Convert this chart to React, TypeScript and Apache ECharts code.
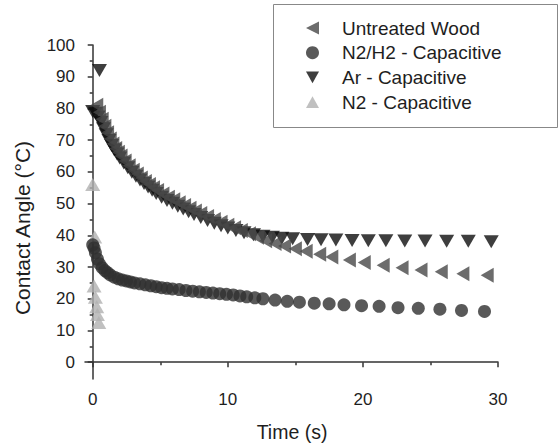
import React, { useEffect, useRef } from "react";
import * as echarts from "echarts";

// Untreated Wood
const uwT = [0.3,0.5,0.7,0.9,1.1,1.3,1.5,1.7,1.9,2.1,2.4,2.7,3.0,3.3,3.6,3.9,4.2,4.5,4.8,5.2,5.6,6.0,6.4,6.8,7.2,7.6,8.0,8.5,9.0,9.5,10.0,10.5,11.0,11.6,12.2,12.8,13.5,14.2,15.0,15.8,16.8,17.7,19.0,20.1,21.5,22.9,24.3,25.8,27.4,29.2];
const uwV = [81,78.8,76.6,74.4,72.3,70.4,68.8,67.4,66.2,65.0,63.4,61.9,60.5,59.3,58.1,57.0,56.0,55.0,54.1,53.0,52.0,51.2,50.3,49.4,48.5,47.7,46.9,45.9,45.0,44.1,43.2,42.4,41.5,40.5,39.4,38.3,37.4,36.6,35.8,35.0,34.0,33.2,32.2,31.4,30.6,29.8,29.1,28.5,27.9,27.4];

// N2/H2 - Capacitive
const nhT = [0.0,0.1,0.2,0.35,0.5,0.7,0.9,1.1,1.3,1.6,1.9,2.2,2.5,2.8,3.1,3.5,3.9,4.3,4.7,5.1,5.5,5.9,6.4,6.9,7.4,7.9,8.4,8.9,9.4,9.9,10.4,10.9,11.4,12.0,12.6,13.5,14.4,15.3,16.4,17.5,18.6,19.9,21.2,22.6,24.1,25.7,27.3,29.0];
const nhV = [37,36,34.5,32.5,31,29.8,28.9,28.2,27.5,26.8,26.3,25.9,25.6,25.3,25.0,24.7,24.4,24.1,23.8,23.5,23.3,23.1,22.9,22.6,22.4,22.2,22.0,21.8,21.6,21.4,21.2,20.9,20.6,20.3,20.0,19.6,19.2,18.9,18.6,18.4,18.1,17.8,17.6,17.2,17.0,16.7,16.3,16.0];

// Ar - Capacitive
const arT = [0.5,0.0,0.2,0.4,0.6,0.8,1.0,1.2,1.4,1.6,1.8,2.0,2.3,2.6,2.9,3.2,3.5,3.8,4.1,4.4,4.7,5.1,5.5,5.9,6.3,6.7,7.1,7.5,8.0,8.5,9.0,9.5,10.0,10.6,11.2,11.9,12.6,13.3,14.0,14.8,15.9,16.9,18.0,19.2,20.4,21.7,23.1,24.6,26.2,27.8,29.5];
const arV = [92,79,78.5,77.3,75.6,73.6,71.7,69.9,68.3,66.9,65.6,64.4,62.8,61.3,59.9,58.6,57.4,56.3,55.2,54.2,53.2,52.0,51.0,50.1,49.2,48.3,47.4,46.6,45.6,44.7,43.8,43.0,42.3,41.5,40.8,40.2,39.7,39.4,39.1,38.9,38.7,38.6,38.5,38.4,38.3,38.3,38.2,38.2,38.1,38.1,38.0];

// N2 - Capacitive
const n2T = [0.0,0.15,0.1,0.2,0.3,0.35,0.45];
const n2V = [56,39.5,24,20.5,17.5,15,12.5];

const xMajor = [0, 10, 20, 30];
const xMinor = [5, 15, 25];
const yMajor = [0, 10, 20, 30, 40, 50, 60, 70, 80, 90, 100];
const yMinor = [5, 15, 25, 35, 45, 55, 65, 75, 85, 95];

const names = ["Untreated Wood", "N2/H2 - Capacitive", "Ar - Capacitive", "N2 - Capacitive"];

const zip = (t: number[], v: number[]) => t.map((x, i) => [x, v[i]]);

const LEFT_TRI = "path://M0,6L12,0L12,12Z";
const DOWN_TRI = "path://M0,0L12,0L6,11Z";
const UP_TRI = "path://M6,0L12,11L0,11Z";

const FONT = "Liberation Sans, Arial, sans-serif";
const AXIS_COLOR = "#333";
const TEXT_COLOR = "#1e1e1e";

export default function App() {
  const ref = useRef<HTMLDivElement>(null);
  useEffect(() => {
    if (!ref.current) return;
    const chart = echarts.init(ref.current, null, { renderer: "svg" });
    const xBase = {
      type: "value",
      min: -0.57,
      max: 30,
      splitLine: { show: false },
      axisLine: { show: true, lineStyle: { color: AXIS_COLOR, width: 1.5 } },
    };
    const yBase = {
      type: "value",
      min: -5.3,
      max: 100,
      splitLine: { show: false },
      axisLine: { show: true, lineStyle: { color: AXIS_COLOR, width: 1.5 } },
    };
    chart.setOption({
      animation: false,
      grid: { left: 85, right: 62, top: 45, bottom: 68 },
      xAxis: [
        {
          ...xBase,
          axisTick: { show: true, inside: false, length: 5, customValues: xMajor, lineStyle: { color: AXIS_COLOR, width: 1.5 } },
          axisLabel: { show: true, customValues: xMajor, fontSize: 17, fontFamily: FONT, color: TEXT_COLOR, margin: 12 },
        },
        {
          ...xBase,
          position: "bottom",
          axisLine: { show: false },
          axisTick: { show: true, inside: false, length: 3, customValues: xMinor, lineStyle: { color: AXIS_COLOR, width: 1.5 } },
          axisLabel: { show: false },
        },
      ],
      yAxis: [
        {
          ...yBase,
          axisTick: { show: true, inside: false, length: 5, customValues: yMajor, lineStyle: { color: AXIS_COLOR, width: 1.5 } },
          axisLabel: { show: true, customValues: yMajor, fontSize: 17, fontFamily: FONT, color: TEXT_COLOR, margin: 10 },
        },
        {
          ...yBase,
          position: "left",
          axisLine: { show: false },
          axisTick: { show: true, inside: false, length: 3, customValues: yMinor, lineStyle: { color: AXIS_COLOR, width: 1.5 } },
          axisLabel: { show: false },
        },
      ],
      legend: {
        orient: "vertical",
        left: 306,
        top: 18,
        padding: 0,
        itemWidth: 13,
        itemHeight: 13,
        itemGap: 4.7,
        textStyle: { fontSize: 19, fontFamily: FONT, color: TEXT_COLOR, lineHeight: 20, padding: [0, 0, 0, 18] },
        data: [
          { name: names[0], icon: LEFT_TRI },
          { name: names[1], icon: "circle" },
          { name: names[2], icon: DOWN_TRI },
          { name: names[3], icon: UP_TRI },
        ],
      },
      graphic: [
        {
          type: "rect",
          shape: { x: 273.5, y: 4.5, width: 284, height: 123 },
          style: { fill: "none", stroke: "#888", lineWidth: 1 },
          z: 0,
        },
        {
          type: "text",
          x: 22,
          y: 228,
          rotation: Math.PI / 2,
          style: { text: "Contact Angle (°C)", fontSize: 21, fontFamily: FONT, fill: TEXT_COLOR, align: "center", verticalAlign: "middle" },
        },
        {
          type: "text",
          x: 292,
          y: 432,
          style: { text: "Time (s)", fontSize: 19.5, fontFamily: FONT, fill: TEXT_COLOR, align: "center", verticalAlign: "middle" },
        },
      ],
      series: [
        {
          name: names[2],
          type: "scatter",
          data: zip(arT, arV),
          symbol: DOWN_TRI,
          symbolSize: [15, 13],
          itemStyle: { color: "#0e0e0e" },
          z: 2,
        },
        {
          name: names[3],
          type: "scatter",
          data: zip(n2T, n2V),
          symbol: UP_TRI,
          symbolSize: [15, 13],
          itemStyle: { color: "#b0b0b0" },
          z: 2,
        },
        {
          name: names[1],
          type: "scatter",
          data: zip(nhT, nhV),
          symbol: "circle",
          symbolSize: 13,
          itemStyle: { color: "#2f2f2f" },
          z: 3,
        },
        {
          name: names[0],
          type: "scatter",
          data: zip(uwT, uwV),
          symbol: LEFT_TRI,
          symbolSize: [13, 15],
          itemStyle: { color: "#474747" },
          z: 4,
        },
      ],
    });
    return () => chart.dispose();
  }, []);
  return <div ref={ref} style={{ position: "absolute", left: 0, top: 0, width: 560, height: 447 }} />;
}
